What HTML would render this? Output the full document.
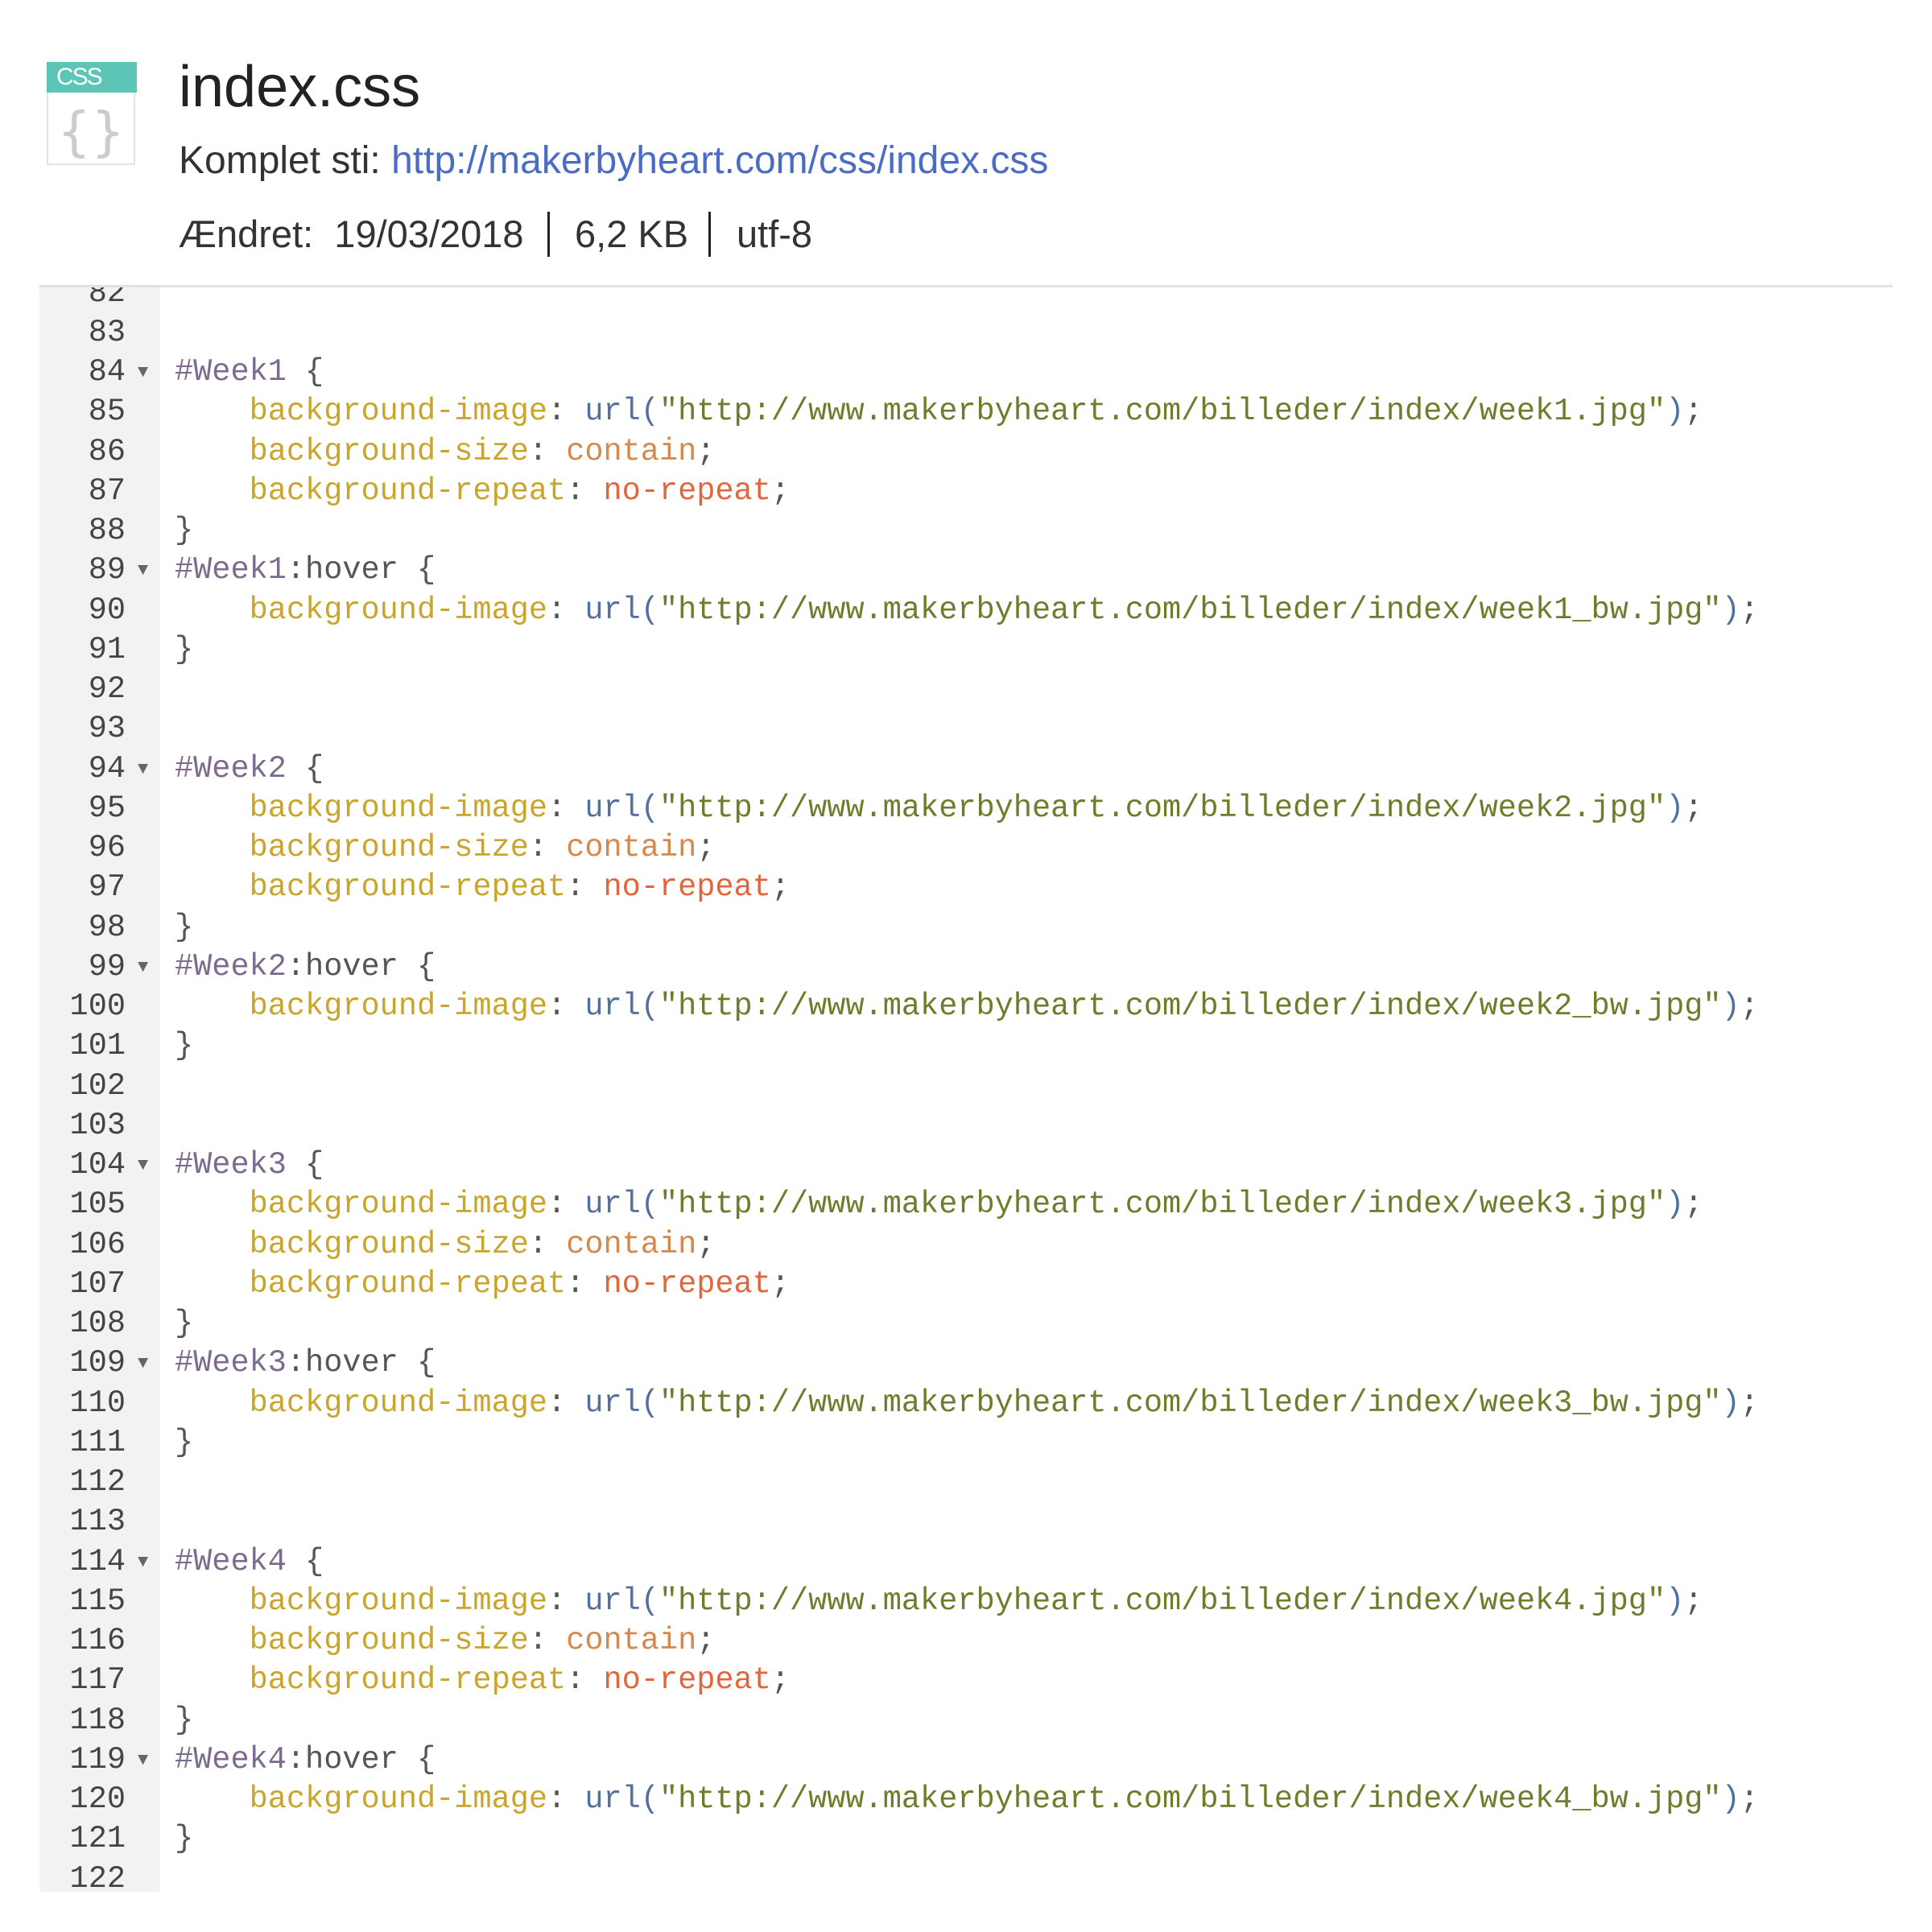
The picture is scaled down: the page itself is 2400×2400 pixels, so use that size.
<!DOCTYPE html>
<html><head><meta charset="utf-8"><style>
html,body{margin:0;padding:0;background:#fff;width:2400px;height:2400px;overflow:hidden}
body{position:relative;font-family:"Liberation Sans",sans-serif;color:#333}
.icon{position:absolute;left:58px;top:77px;width:110px;height:128px;border:2px solid #e2e2e2;background:#fff;box-sizing:border-box}
.icon .hd{position:absolute;left:-2px;top:-2px;width:112px;height:38px;background:#5dc5b5;color:#fff;font-size:30px;line-height:38px;padding-left:12px;box-sizing:border-box;letter-spacing:-2px}
.icon .br{position:absolute;left:0;width:106px;top:46px;text-align:center;font-size:66px;color:#ccc;font-family:"DejaVu Sans",sans-serif}
.t{position:absolute;left:222px;white-space:nowrap}
.bar{position:absolute;width:3px;background:#222;top:263px;height:56px}
.sep{position:absolute;left:49px;top:354px;width:2302px;height:3px;background:#e2e2e2}
.code{position:absolute;left:49px;top:357px;width:2302px;height:1993px;overflow:hidden}
.gut{position:absolute;left:0;top:0;width:150px;height:100%;background:#f2f2f2}
.lines{position:absolute;left:0;top:-17.5px;width:2302px;font-family:"Liberation Mono",monospace;font-size:38.6px}
.l{height:49.25px;line-height:49.25px;white-space:pre;position:relative}
.n{position:absolute;left:0;width:107px;color:#444;text-align:right}
.a{position:absolute;left:122px;color:#666;font-size:22px}
.c{position:absolute;left:168px;color:#555}
.s{color:#7d6a8f}.p{color:#c9a52c}.u{color:#52709c}.q{color:#6d7d2c}.v1{color:#d4894e}.v2{color:#e2663c}
</style></head><body>
<div class="icon"><div class="hd">CSS</div><div class="br">{}</div></div>
<div class="t" style="top:72px;font-size:72px;color:#222;line-height:72px">index.css</div>
<div class="t" style="top:173px;font-size:48px;line-height:54px">Komplet sti: <span style="color:#4a6cc4">http://makerbyheart.com/css/index.css</span></div>
<div class="t" style="top:264px;font-size:47px;line-height:54px">Ændret:&nbsp; 19/03/2018</div>
<div class="bar" style="left:680px"></div>
<div class="t" style="left:714px;top:264px;font-size:47px;line-height:54px">6,2 KB</div>
<div class="bar" style="left:880px"></div>
<div class="t" style="left:915px;top:264px;font-size:47px;line-height:54px">utf-8</div>
<div class="sep"></div>
<div class="code"><div class="gut"></div><div class="lines">
<div class="l"><span class="n">82</span></div>
<div class="l"><span class="n">83</span></div>
<div class="l"><span class="n">84</span><span class="a">▼</span><span class="c"><span class="s">#Week1</span> {</span></div>
<div class="l"><span class="n">85</span><span class="c">    <span class="p">background-image</span>: <span class="u">url(</span><span class="q">"http://www.makerbyheart.com/billeder/index/week1.jpg"</span><span class="u">)</span>;</span></div>
<div class="l"><span class="n">86</span><span class="c">    <span class="p">background-size</span>: <span class="v1">contain</span>;</span></div>
<div class="l"><span class="n">87</span><span class="c">    <span class="p">background-repeat</span>: <span class="v2">no-repeat</span>;</span></div>
<div class="l"><span class="n">88</span><span class="c">}</span></div>
<div class="l"><span class="n">89</span><span class="a">▼</span><span class="c"><span class="s">#Week1</span>:hover {</span></div>
<div class="l"><span class="n">90</span><span class="c">    <span class="p">background-image</span>: <span class="u">url(</span><span class="q">"http://www.makerbyheart.com/billeder/index/week1_bw.jpg"</span><span class="u">)</span>;</span></div>
<div class="l"><span class="n">91</span><span class="c">}</span></div>
<div class="l"><span class="n">92</span></div>
<div class="l"><span class="n">93</span></div>
<div class="l"><span class="n">94</span><span class="a">▼</span><span class="c"><span class="s">#Week2</span> {</span></div>
<div class="l"><span class="n">95</span><span class="c">    <span class="p">background-image</span>: <span class="u">url(</span><span class="q">"http://www.makerbyheart.com/billeder/index/week2.jpg"</span><span class="u">)</span>;</span></div>
<div class="l"><span class="n">96</span><span class="c">    <span class="p">background-size</span>: <span class="v1">contain</span>;</span></div>
<div class="l"><span class="n">97</span><span class="c">    <span class="p">background-repeat</span>: <span class="v2">no-repeat</span>;</span></div>
<div class="l"><span class="n">98</span><span class="c">}</span></div>
<div class="l"><span class="n">99</span><span class="a">▼</span><span class="c"><span class="s">#Week2</span>:hover {</span></div>
<div class="l"><span class="n">100</span><span class="c">    <span class="p">background-image</span>: <span class="u">url(</span><span class="q">"http://www.makerbyheart.com/billeder/index/week2_bw.jpg"</span><span class="u">)</span>;</span></div>
<div class="l"><span class="n">101</span><span class="c">}</span></div>
<div class="l"><span class="n">102</span></div>
<div class="l"><span class="n">103</span></div>
<div class="l"><span class="n">104</span><span class="a">▼</span><span class="c"><span class="s">#Week3</span> {</span></div>
<div class="l"><span class="n">105</span><span class="c">    <span class="p">background-image</span>: <span class="u">url(</span><span class="q">"http://www.makerbyheart.com/billeder/index/week3.jpg"</span><span class="u">)</span>;</span></div>
<div class="l"><span class="n">106</span><span class="c">    <span class="p">background-size</span>: <span class="v1">contain</span>;</span></div>
<div class="l"><span class="n">107</span><span class="c">    <span class="p">background-repeat</span>: <span class="v2">no-repeat</span>;</span></div>
<div class="l"><span class="n">108</span><span class="c">}</span></div>
<div class="l"><span class="n">109</span><span class="a">▼</span><span class="c"><span class="s">#Week3</span>:hover {</span></div>
<div class="l"><span class="n">110</span><span class="c">    <span class="p">background-image</span>: <span class="u">url(</span><span class="q">"http://www.makerbyheart.com/billeder/index/week3_bw.jpg"</span><span class="u">)</span>;</span></div>
<div class="l"><span class="n">111</span><span class="c">}</span></div>
<div class="l"><span class="n">112</span></div>
<div class="l"><span class="n">113</span></div>
<div class="l"><span class="n">114</span><span class="a">▼</span><span class="c"><span class="s">#Week4</span> {</span></div>
<div class="l"><span class="n">115</span><span class="c">    <span class="p">background-image</span>: <span class="u">url(</span><span class="q">"http://www.makerbyheart.com/billeder/index/week4.jpg"</span><span class="u">)</span>;</span></div>
<div class="l"><span class="n">116</span><span class="c">    <span class="p">background-size</span>: <span class="v1">contain</span>;</span></div>
<div class="l"><span class="n">117</span><span class="c">    <span class="p">background-repeat</span>: <span class="v2">no-repeat</span>;</span></div>
<div class="l"><span class="n">118</span><span class="c">}</span></div>
<div class="l"><span class="n">119</span><span class="a">▼</span><span class="c"><span class="s">#Week4</span>:hover {</span></div>
<div class="l"><span class="n">120</span><span class="c">    <span class="p">background-image</span>: <span class="u">url(</span><span class="q">"http://www.makerbyheart.com/billeder/index/week4_bw.jpg"</span><span class="u">)</span>;</span></div>
<div class="l"><span class="n">121</span><span class="c">}</span></div>
<div class="l"><span class="n">122</span></div>
</div></div>
</body></html>
